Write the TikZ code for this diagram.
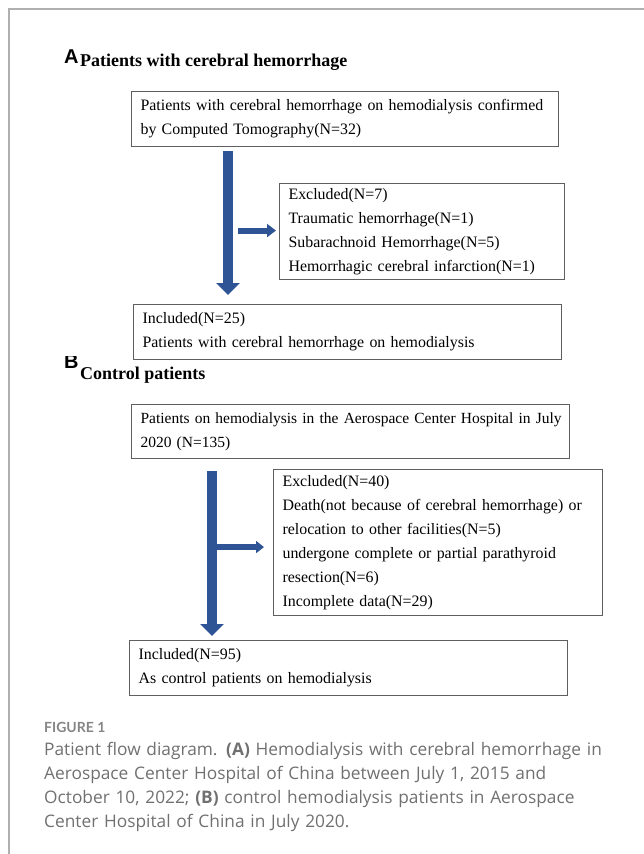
\documentclass[tikz,border=0pt]{standalone}
\usepackage{fontspec}
\setmainfont{Liberation Serif}
\newfontfamily\panelfont{Liberation Sans}
\newfontfamily\labelfont{Lato}
\newfontfamily\captionfont{Open Sans}
\usetikzlibrary{arrows.meta,positioning}
\definecolor{flowblue}{RGB}{46,84,150}
\definecolor{boxgray}{RGB}{95,95,95}
\definecolor{framegray}{RGB}{175,175,175}
\definecolor{captiongray}{RGB}{112,112,112}
\tikzset{
    flowbox/.style={draw=boxgray, line width=1.1pt, anchor=north west, align=left,
        inner xsep=0pt, inner ysep=0pt, font=\fontsize{15.9}{24}\selectfont,
        execute at begin node={\leftskip=9pt\rightskip=-20pt plus 1fil}},
    panel/.style={anchor=base west, inner sep=0pt, font=\panelfont\bfseries\fontsize{20}{20}\selectfont},
    heading/.style={anchor=base west, inner sep=0pt, font=\bfseries\fontsize{18}{18}\selectfont},
    mainflow/.style={draw=flowblue, line width=10pt, -{Triangle[length=12pt,width=23pt]}},
}
\begin{document}
\begin{tikzpicture}[x=1pt, y=-1pt]
\useasboundingbox (0,0) rectangle (644,854);
\draw[framegray, line width=1.5pt] (9,854) -- (9,9) -- (644,9);

% Panel A
\node[panel] (labA) at (64,63) {A};
\node[heading] (headA) at (80,66) {Patients with cerebral hemorrhage};
\node[flowbox, text width=427pt, minimum height=55pt] (topA) at (131,91)
    {Patients with cerebral hemorrhage on hemodialysis confirmed\\by Computed Tomography(N=32)};
\node[flowbox, text width=285pt, minimum height=96pt] (exclA) at (279,183)
    {Excluded(N=7)\\Traumatic hemorrhage(N=1)\\Subarachnoid Hemorrhage(N=5)\\Hemorrhagic cerebral infarction(N=1)};
\node[flowbox, text width=428pt, minimum height=55pt] (inclA) at (133,304)
    {Included(N=25)\\Patients with cerebral hemorrhage on hemodialysis};

% Panel B
\begin{scope}
\clip (40,356) rectangle (100,380);
\node[panel] (labB) at (64,368) {B};
\end{scope}
\node[heading] (headB) at (80,379) {Control patients};
\node[flowbox, text width=438pt, minimum height=54pt, font=\fontsize{15.5}{24}\selectfont] (topB) at (131,404)
    {Patients on hemodialysis in the Aerospace Center Hospital in July\\2020 (N=135)};
\node[flowbox, text width=329pt, minimum height=146pt] (exclB) at (273,469)
    {Excluded(N=40)\\Death(not because of cerebral hemorrhage) or\\relocation to other facilities(N=5)\\undergone complete or partial parathyroid\\resection(N=6)\\Incomplete data(N=29)};
\node[flowbox, text width=438pt, minimum height=55pt] (inclB) at (129,640)
    {Included(N=95)\\As control patients on hemodialysis};

% Arrows A
\coordinate (stemA) at ([xshift=97pt]topA.south west);
\draw[mainflow, shorten >=9pt] ([yshift=-4pt]stemA) -- (stemA |- inclA.north);
\draw[draw=flowblue, line width=6pt, -{Triangle[length=9pt,width=13pt]}, shorten >=3pt]
    ([xshift=10pt,yshift=1pt]stemA |- exclA.west) -- ([yshift=1pt]exclA.west);

% Arrows B
\coordinate (stemB) at ([xshift=81pt]topB.south west);
\draw[mainflow, shorten >=4pt] ([yshift=-12pt]stemB) -- (stemB |- inclB.north);
\draw[draw=flowblue, line width=5.5pt, -{Triangle[length=8pt,width=12pt]}, shorten >=9pt]
    ([yshift=-4.5pt]stemB |- exclB.west) -- ([yshift=-4.5pt]exclB.west);

% Caption
\node[anchor=base west, inner sep=0pt, text=captiongray!85!white,
    font=\labelfont\bfseries\fontsize{14}{14}\selectfont] (figno) at (44,732) {FIGURE 1};
\node[anchor=base west, inner sep=0pt, text width=600pt, align=left, text=captiongray,
    font=\captionfont\fontsize{17.3}{24}\selectfont] (caption) at (44,755)
    {Patient flow diagram. \textbf{(A)} Hemodialysis with cerebral hemorrhage in\\
     Aerospace Center Hospital of China between July 1, 2015 and\\
     October 10, 2022; \textbf{(B)} control hemodialysis patients in Aerospace\\
     Center Hospital of China in July 2020.};
\end{tikzpicture}
\end{document}
